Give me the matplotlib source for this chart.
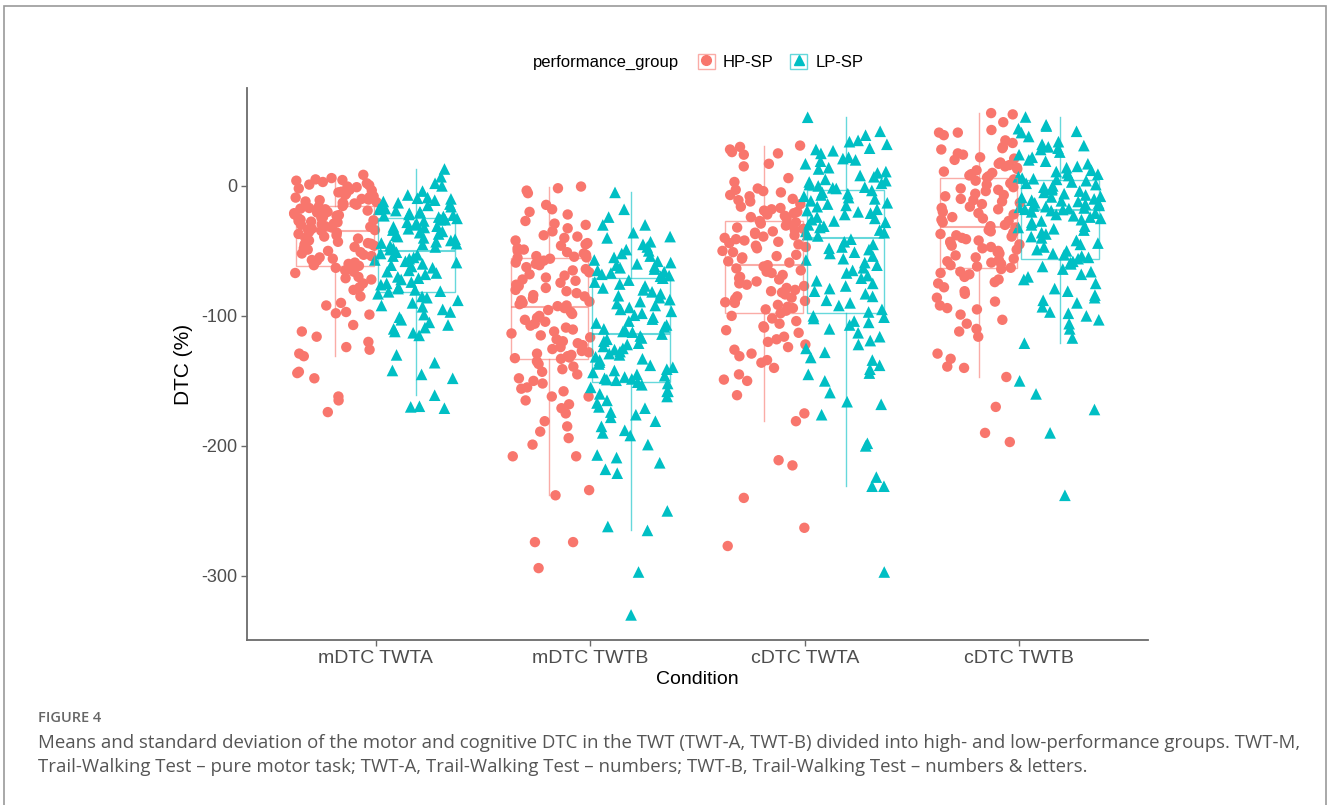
import matplotlib
matplotlib.use("Agg")
import matplotlib.pyplot as plt
from matplotlib.patches import Rectangle, Patch
from matplotlib.lines import Line2D
from matplotlib.legend_handler import HandlerTuple
import numpy as np

plt.rcParams['font.family'] = ['Liberation Sans', 'DejaVu Sans']

conditions = ["mDTC TWTA", "mDTC TWTB", "cDTC TWTA", "cDTC TWTB"]
groups = ["HP-SP", "LP-SP"]
colors = {"HP-SP": "#F8766D", "LP-SP": "#00BFC4"}
markers = {"HP-SP": "o", "LP-SP": "^"}

# DTC (%) values, per condition and group
mdtc_twta_hp = [8.5, 6, 5, 4.5, 4, 3, 2, 1, 0.5, -0.5, -1, -2, -3, -3.5, -4.5, -5, -6, -7, -8, -8.5,
                -9, -10, -10.5, -11, -12, -12.5, -13, -13.5, -14, -14.5,
                -15.5, -16, -17, -17.5, -18, -19, -20, -20.5, -21, -22, -22.5, -23, -24, -24.5, -25,
                -26, -26.5, -27, -27.5, -28, -29, -29.5, -30, -31, -31.5, -32, -33, -33.5, -34, -34.5,
                -35.5, -36, -37, -38, -39, -40, -40.5, -42, -43, -44, -44.5, -45, -46, -47, -48,
                -49, -50, -51, -52, -53, -54, -55, -56, -57, -57.5, -58, -59, -60, -61, -61.5,
                -63, -65, -66, -67, -70, -71, -72, -75, -78, -80, -85, -90, -92, -97, -98,
                -99, -107, -112, -116, -120, -124, -126, -129, -131, -143, -144, -148, -162, -165, -174]
mdtc_twta_lp = [13, 7, 2, 0, -4, -7, -9, -9.5, -10, -11, -12, -13, -14, -15, -16, -17, -17.5, -18, -18,
                -19, -20, -20.5, -21, -22, -22.5, -23, -23.5, -24,
                -25, -26, -26, -27, -28, -29, -30, -31, -31.5, -32, -33, -34, -35, -36, -37, -38,
                -39, -40, -41, -42, -43, -44, -44.5, -45, -46, -47, -48, -49,
                -51, -52, -53, -54, -55, -56, -57, -58, -59, -60, -61, -62, -63, -65, -66, -67,
                -68, -70, -71, -72, -74, -75, -76, -78, -79, -80, -81, -81.5,
                -83, -85, -86, -88, -90, -92, -93, -95, -97, -99, -101, -103, -105, -107, -109,
                -110, -112, -113, -115, -130, -136, -142, -145, -148, -161, -169.5, -170, -171]
mdtc_twtb_hp = [-0.5, -1.8, -3.6, -5.6, -14.6, -18, -20, -22, -27, -29, -30, -32.6, -35, -38, -39,
                -40, -42, -44, -45, -46, -48, -49, -50, -51, -52, -53, -54, -54.5, -55, -55.3,
                -56, -57.5, -59, -60, -61, -62.5, -64, -65, -66.5, -68, -69, -70.5, -72, -73, -74.5,
                -76, -77, -78.5, -80, -81, -82.5, -84, -85, -86.5, -88, -89, -90, -91, -92, -92.5,
                -94, -95.5, -97, -98.5, -100, -101.5, -103, -104.5, -106, -107.5, -109, -110.5, -112,
                -113.5, -115, -116.5, -118, -119.5, -121, -122.5, -124, -125.5, -127, -128, -129,
                -130, -131, -132, -132.5, -133,
                -135, -137, -139, -141, -143, -145, -148, -150, -152, -155, -156, -158, -162, -162,
                -165, -168, -171, -175, -181, -185, -189, -194, -199, -208, -208, -234, -238, -274,
                -274, -294]
mdtc_twtb_lp = [-5, -18, -24, -30, -30, -36, -39, -40, -43, -45, -47, -49, -50, -52, -54, -55, -57,
                -58, -59, -60, -61, -62, -63, -64, -65, -66, -67, -68, -69, -69.5,
                -71, -72.5, -74, -75.5, -77, -78.5, -80, -81.5, -83, -84.5, -86, -87.5, -89, -90.5,
                -92, -93.5, -95, -96.5, -98, -99.5, -101, -102.5, -104, -105.5, -107, -108.5, -110,
                -111, -112, -112.5,
                -114, -115.5, -117, -118, -119.5, -121, -122, -123.5, -125, -126, -127.5, -129, -130,
                -131.5, -133, -134, -135.5, -137, -138, -139.5, -141, -142, -143.5, -145, -146, -147,
                -148, -148.5, -149, -149.5,
                -151, -152, -153, -155, -158, -158, -160, -162, -165, -167, -170, -171, -174, -176,
                -178, -181, -185, -188, -190, -192, -199, -207, -209, -213, -218, -221, -250, -262,
                -265, -297, -330]
cdtc_twta_hp = [31, 30, 28, 26, 25, 24, 17, 15, 6, 3, -2, -3, -4, -5, -7, -8, -10, -11, -12, -14, -16,
                -17, -18, -19, -20, -21, -22, -23, -24, -25,
                -27, -28, -29, -30, -30.5, -32, -33, -34, -35, -36, -37, -38, -39, -40, -41, -42, -43,
                -44, -45, -46, -47, -48, -50, -51, -53, -54, -55, -56, -58, -59,
                -61, -62, -63.5, -65, -66, -67, -68.5, -70, -71, -72, -73.5, -75, -76, -77, -78.5,
                -80, -81, -82, -83.5, -85, -86, -87, -88.5, -89.5, -90, -91.5, -93, -94, -95, -96,
                -98, -100, -102, -104, -106, -108, -109, -111, -113, -116, -118, -120, -122, -124,
                -126, -129, -131, -134, -136, -140, -145, -149, -150, -161, -175, -181, -211, -215,
                -240, -263, -277]
cdtc_twta_lp = [52.8, 42, 39, 35, 34, 32, 29, 28, 27, 25, 22, 21, 20, 19, 17, 14, 13, 11, 10, 8, 7, 5,
                4, 3, 2, 1, 0, -1, -1.5, -2,
                -3.5, -5, -6, -7, -8, -9, -10, -11.5, -13, -14, -15, -16, -18, -19, -20, -21, -22,
                -24, -25, -26, -27, -28, -30, -31, -32, -34, -35, -36, -37.5, -38.5,
                -41, -43, -45, -47, -48, -49, -51, -52, -54, -56, -57, -59, -61, -63, -65, -67, -69,
                -71, -73, -75, -77, -79, -81, -83, -85, -88, -90, -92, -95, -97,
                -100, -101, -102, -104, -105, -107, -110, -113, -116, -119, -122, -125, -128, -132,
                -134, -138, -141, -144, -145, -150, -159, -166, -168, -176, -198, -200, -224, -231,
                -231, -297]
cdtc_twtb_hp = [56, 55, 49, 43, 41, 41, 39, 35, 33, 30, 29, 28, 25, 24, 22, 21, 20, 18, 17, 16, 15,
                14, 13, 12, 11, 10, 9, 8, 7.5, 6.5,
                5, 4, 2, 1, -1, -2, -3, -4, -6, -7, -8, -10, -11, -12, -13, -14, -16, -17, -18, -20,
                -21, -22, -24, -25, -26, -27, -28, -30, -31, -32,
                -34, -35, -36, -37, -38, -39, -40, -41, -42, -43, -44, -45, -46, -47, -48, -49, -50,
                -51, -52, -53.5, -55, -56, -57, -58, -59, -60, -61, -62, -63, -64,
                -66, -67, -68, -70, -72, -74, -75, -78, -81, -83, -86, -89, -92, -94, -95, -99, -103,
                -106, -110, -112, -116, -129, -133, -139, -140, -147, -170, -190, -197]
cdtc_twtb_lp = [53, 47, 46, 44, 42, 41, 38, 34, 32, 31, 30, 29, 28, 26, 24, 22, 20, 19, 17, 15, 14,
                12, 11, 10, 9, 8, 7, 6, 5.5, 5,
                4, 3, 2, 1, 0, -1, -2, -3, -4, -5, -6, -7, -8, -8.5, -9, -10, -11, -11.5, -12, -13,
                -13.5, -14, -15, -15.5, -16, -16.5, -17, -17.5, -18, -18.2,
                -19, -20, -21, -22, -23, -24, -25, -26, -27, -28, -30, -31, -32, -33, -34, -36, -37,
                -39, -40, -42, -44, -45, -47, -49, -50, -52, -53, -54, -55, -56,
                -58, -59, -60, -62, -64, -66, -68, -70, -72, -75, -79, -81, -84, -86, -88, -90, -93,
                -97, -98, -100, -103, -106, -110, -117, -121, -150, -160, -172, -190, -238]

data = {
    ("mDTC TWTA", "HP-SP"): mdtc_twta_hp, ("mDTC TWTA", "LP-SP"): mdtc_twta_lp,
    ("mDTC TWTB", "HP-SP"): mdtc_twtb_hp, ("mDTC TWTB", "LP-SP"): mdtc_twtb_lp,
    ("cDTC TWTA", "HP-SP"): cdtc_twta_hp, ("cDTC TWTA", "LP-SP"): cdtc_twta_lp,
    ("cDTC TWTB", "HP-SP"): cdtc_twtb_hp, ("cDTC TWTB", "LP-SP"): cdtc_twtb_lp,
}


def spread(n, seed):
    # deterministic scatter in [-1, 1] used for horizontal jitter
    k = np.arange(n) + seed * 97.0
    return (np.sin(k * 12.9898 + 78.233) * 43758.5453) % 1.0 * 2 - 1


fig = plt.figure(figsize=(13.28, 8.05), dpi=100)
ax = fig.add_axes([247 / 1328, 1 - 640 / 805, (1148 - 247) / 1328, (640 - 88) / 805])

dodge = 0.19
box_w = 0.36
jit = 0.195
for ci, cond in enumerate(conditions):
    for gi, grp in enumerate(groups):
        vals = np.array(data[(cond, grp)], dtype=float)
        pos = ci + 1 + (gi - 0.5) * 2 * dodge
        col = colors[grp]
        ax.boxplot(vals, positions=[pos], widths=box_w, showfliers=False, showcaps=False,
                   patch_artist=True, manage_ticks=False,
                   boxprops=dict(facecolor="none", edgecolor=col, alpha=0.6, linewidth=1.0),
                   medianprops=dict(color=col, alpha=0.6, linewidth=1.5),
                   whiskerprops=dict(color=col, alpha=0.6, linewidth=1.0),
                   zorder=4)
        offs = spread(len(vals), ci * 2 + gi + 1) * jit
        ax.scatter(pos + offs, vals, s=56 if grp == "HP-SP" else 70, marker=markers[grp],
                   color=col, edgecolors="none", zorder=3)

ax.set_xlim(0.4, 4.6)
ax.set_ylim(-349.3, 75.3)
ax.set_xticks(range(1, 5))
ax.set_xticklabels(conditions, fontsize=14)
ax.set_yticks([0, -100, -200, -300])
ax.set_yticklabels(["0", "-100", "-200", "-300"], fontsize=13)
for s in ["top", "right"]:
    ax.spines[s].set_visible(False)
for s in ["left", "bottom"]:
    ax.spines[s].set_color("#6b6b6b")
    ax.spines[s].set_linewidth(1.3)
ax.tick_params(axis="both", colors="#6b6b6b", length=4, width=1.0,
               labelcolor="#4D4D4D", pad=3)
ax.set_xlabel("Condition", fontsize=14, color="black", labelpad=3)
ax.set_ylabel("DTC (%)", fontsize=15, color="black", labelpad=6)

# legend across the top
fig.text(533 / 1328, 1 - 62 / 805, "performance_group", fontsize=12, va="center", ha="left")
handles = []
for grp in groups:
    col = colors[grp]
    box = Patch(facecolor="none", edgecolor=col, alpha=0.6, linewidth=1.0)
    mk = Line2D([], [], marker=markers[grp], color=col, linestyle="none", markersize=7)
    handles.append((box, mk))
fig.legend(handles, groups, loc="center left", bbox_to_anchor=(683 / 1328, 1 - 62 / 805),
           ncol=2, frameon=False, fontsize=12, handlelength=1.0, handleheight=1.0,
           handletextpad=0.5, columnspacing=1.0, handler_map={tuple: HandlerTuple(ndivide=1)})

# caption
cap_font = ["Open Sans", "DejaVu Sans"]
fig.text(38 / 1328, 1 - 718 / 805, "FIGURE 4", fontsize=10.5, color="#666666", va="center",
         family=cap_font, fontweight="semibold")
fig.text(38 / 1328, 1 - 743 / 805,
         "Means and standard deviation of the motor and cognitive DTC in the TWT (TWT-A, TWT-B) "
         "divided into high- and low-performance groups. TWT-M,",
         fontsize=13.4, color="#555555", va="center", family=cap_font)
fig.text(38 / 1328, 1 - 767 / 805,
         "Trail-Walking Test \u2013 pure motor task; TWT-A, Trail-Walking Test \u2013 numbers; "
         "TWT-B, Trail-Walking Test \u2013 numbers & letters.",
         fontsize=13.4, color="#555555", va="center", family=cap_font)

# frame around the whole figure
fig.patches.append(Rectangle((4 / 1328, -0.02), 1322 / 1328, 1.02 - 6 / 805, transform=fig.transFigure,
                             fill=False, edgecolor="#9a9a9a", linewidth=1.2))

fig.savefig("out.png", dpi=100)
